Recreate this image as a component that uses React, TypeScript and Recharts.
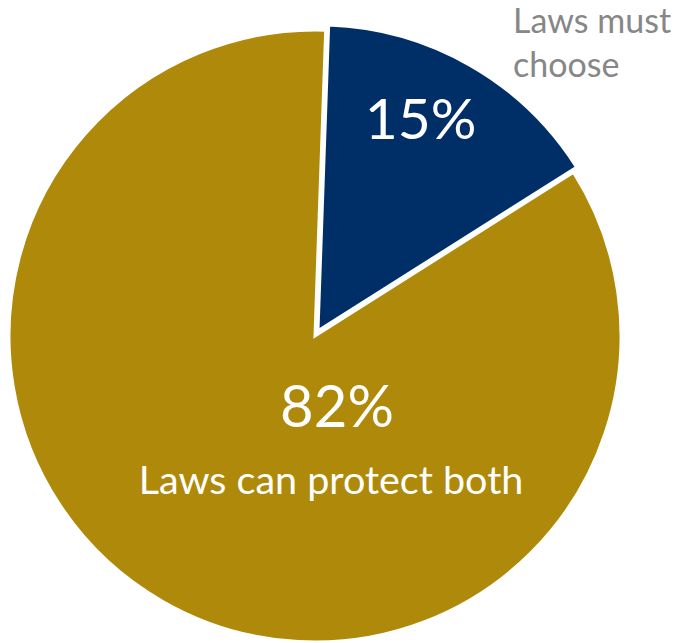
import { PieChart, Pie, Cell } from 'recharts';

const labels = ['Laws must choose', 'Laws can protect both'];
const values = [15, 82];
const colors = ['#002F67', '#AF8A0A'];

const data = labels.map((name, i) => ({ name, value: values[i] }));

const CX = 315;
const CY = 336;
const R = 306;
const START = 88;
const EXPLODE = 6;

// navy slice is pulled out a little along its mid angle
const navyMid = START - (values[0] / (values[0] + values[1])) * 180;
const navyCx = CX + EXPLODE * Math.cos((navyMid * Math.PI) / 180);
const navyCy = CY - EXPLODE * Math.sin((navyMid * Math.PI) / 180);

const FONT = 'Lato, "Open Sans", sans-serif';

const renderNavyLabel = (props: any) => {
  if (props.index !== 0) return null;
  const { cx, cy, midAngle, outerRadius } = props;
  const a = ((midAngle + 4) * Math.PI) / 180;
  const r = outerRadius * 0.77;
  const x = cx + r * Math.cos(a);
  const y = cy - r * Math.sin(a);
  return (
    <g>
      <text x={x} y={y + 20} fill="#fff" fontSize={57} textAnchor="middle" fontFamily={FONT}>
        {`${values[0]}%`}
      </text>
      <text x={cx + 195} y={cy - 298} fill="#878787" fontSize={34} fontFamily={FONT}>
        <tspan x={cx + 195}>Laws must</tspan>
        <tspan x={cx + 195} dy={44}>choose</tspan>
      </text>
    </g>
  );
};

const renderGoldLabel = (props: any) => {
  if (props.index !== 1) return null;
  const { cx, cy } = props;
  return (
    <g>
      <text x={cx + 22} y={cy + 91} fill="#fff" fontSize={58} textAnchor="middle" fontFamily={FONT}>
        {`${values[1]}%`}
      </text>
      <text x={cx + 16} y={cy + 158} fill="#fff" fontSize={39.5} textAnchor="middle" fontFamily={FONT}>
        {labels[1]}
      </text>
    </g>
  );
};

export default function App() {
  return (
    <div style={{ position: 'absolute', left: 0, top: 0, background: '#fff' }}>
      <PieChart width={677} height={643} margin={{ top: 0, right: 0, bottom: 0, left: 0 }}>
        <Pie
          data={data}
          dataKey="value"
          cx={CX}
          cy={CY}
          outerRadius={R}
          startAngle={START}
          endAngle={START - 360}
          stroke="#fff"
          strokeWidth={3}
          label={renderGoldLabel}
          labelLine={false}
          isAnimationActive={false}
        >
          {data.map((d, i) => (
            <Cell key={d.name} fill={i === 1 ? colors[1] : 'transparent'} stroke={i === 1 ? '#fff' : 'none'} />
          ))}
        </Pie>
        <Pie
          data={data}
          dataKey="value"
          cx={navyCx}
          cy={navyCy}
          outerRadius={R}
          startAngle={START}
          endAngle={START - 360}
          stroke="#fff"
          strokeWidth={3}
          label={renderNavyLabel}
          labelLine={false}
          isAnimationActive={false}
        >
          {data.map((d, i) => (
            <Cell key={d.name} fill={i === 0 ? colors[0] : 'transparent'} stroke={i === 0 ? '#fff' : 'none'} />
          ))}
        </Pie>
      </PieChart>
    </div>
  );
}
